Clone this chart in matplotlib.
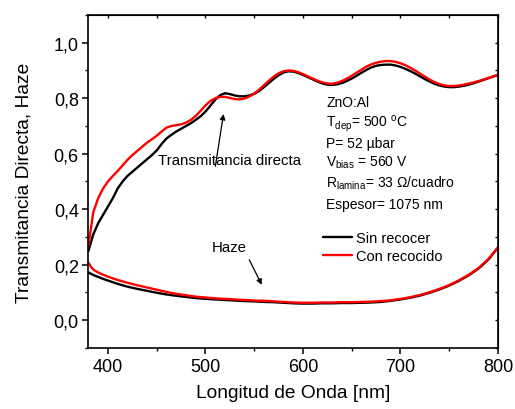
import matplotlib
matplotlib.use("Agg")
import matplotlib.pyplot as plt
from matplotlib.ticker import FuncFormatter, MultipleLocator

plt.rcParams['font.family'] = ['Liberation Sans', 'DejaVu Sans']
plt.rcParams['mathtext.fontset'] = 'custom'
plt.rcParams['mathtext.rm'] = 'Liberation Sans'
plt.rcParams['mathtext.it'] = 'Liberation Sans'

# Transmittance data
wl_t = list(range(380, 801, 5))
t_sin = [0.25, 0.31, 0.35, 0.38, 0.41, 0.44, 0.475, 0.50, 0.52, 0.535, 0.55, 0.565, 0.58,
         0.595, 0.612, 0.635, 0.655, 0.668, 0.68, 0.69, 0.70, 0.71, 0.722, 0.735, 0.752,
         0.773, 0.795, 0.811, 0.818, 0.815, 0.81, 0.807, 0.807, 0.81, 0.816, 0.826, 0.84,
         0.855, 0.87, 0.883, 0.893, 0.897, 0.896, 0.891, 0.884, 0.876, 0.868, 0.86, 0.853,
         0.849, 0.848, 0.85, 0.855, 0.862, 0.871, 0.881, 0.892, 0.902, 0.911, 0.917, 0.92,
         0.921, 0.921, 0.918, 0.913, 0.906, 0.898, 0.889, 0.879, 0.869, 0.86, 0.852, 0.846,
         0.842, 0.84, 0.84, 0.842, 0.845, 0.849, 0.854, 0.86, 0.866, 0.872, 0.878, 0.883]
t_con = [0.27, 0.39, 0.44, 0.475, 0.50, 0.52, 0.538, 0.558, 0.578, 0.595, 0.61, 0.625, 0.64,
         0.652, 0.665, 0.68, 0.694, 0.70, 0.703, 0.706, 0.712, 0.722, 0.736, 0.755, 0.774,
         0.79, 0.80, 0.805, 0.805, 0.801, 0.797, 0.796, 0.799, 0.806, 0.817, 0.831, 0.847,
         0.863, 0.878, 0.89, 0.897, 0.90, 0.899, 0.894, 0.887, 0.879, 0.871, 0.863, 0.857,
         0.853, 0.852, 0.856, 0.862, 0.871, 0.881, 0.892, 0.903, 0.914, 0.922, 0.928, 0.932,
         0.934, 0.934, 0.931, 0.926, 0.919, 0.91, 0.90, 0.889, 0.878, 0.867, 0.858, 0.851,
         0.846, 0.844, 0.844, 0.846, 0.849, 0.853, 0.857, 0.862, 0.867, 0.873, 0.879, 0.885]

# Haze data
wl_hs = [380, 385, 390, 395, 400, 410, 420, 430, 440, 450, 460, 470, 480, 490, 500, 510,
         520, 530, 540, 550, 560, 570, 580, 590, 600, 610, 620, 630, 640, 650, 660, 670,
         680, 690, 700, 710, 720, 730, 740, 750, 760, 770, 780, 790, 800]
h_sin = [0.172, 0.163, 0.156, 0.149, 0.143, 0.131, 0.121, 0.113, 0.106, 0.099, 0.093, 0.088,
         0.084, 0.080, 0.077, 0.075, 0.073, 0.071, 0.069, 0.068, 0.066, 0.065, 0.063, 0.061,
         0.060, 0.060, 0.061, 0.061, 0.062, 0.062, 0.063, 0.064, 0.066, 0.070, 0.075, 0.081,
         0.089, 0.099, 0.111, 0.125, 0.142, 0.162, 0.186, 0.218, 0.262]
wl_hc = [380, 383, 386, 390, 395, 400, 410, 420, 430, 440, 450, 460, 470, 480, 490, 500,
         510, 520, 530, 540, 550, 560, 570, 580, 590, 600, 610, 620, 630, 640, 650, 660,
         670, 680, 690, 700, 710, 720, 730, 740, 750, 760, 770, 780, 790, 800]
h_con = [0.207, 0.19, 0.18, 0.172, 0.164, 0.157, 0.145, 0.135, 0.126, 0.118, 0.11, 0.102,
         0.095, 0.09, 0.085, 0.082, 0.079, 0.077, 0.075, 0.073, 0.071, 0.070, 0.068, 0.066,
         0.064, 0.063, 0.063, 0.064, 0.064, 0.065, 0.065, 0.066, 0.067, 0.069, 0.072, 0.077,
         0.083, 0.091, 0.101, 0.113, 0.127, 0.144, 0.164, 0.188, 0.22, 0.263]

fig = plt.figure(figsize=(5.15, 4.10), dpi=100)
ax = fig.add_axes([0.1718, 0.1488, 0.7952, 0.8122])

kw = dict(lw=1.7, solid_joinstyle='round', solid_capstyle='round')
ax.plot(wl_t, t_sin, color='black', label='Sin recocer', **kw)
ax.plot(wl_t, t_con, color='#ff0000', label='Con recocido', **kw)
ax.plot(wl_hs, h_sin, color='black', **kw)
ax.plot(wl_hc, h_con, color='#ff0000', **kw)

ax.set_xlim(380, 800)
ax.set_ylim(-0.1, 1.1)
ax.xaxis.set_major_locator(MultipleLocator(100))
ax.xaxis.set_minor_locator(MultipleLocator(50))
ax.yaxis.set_major_locator(MultipleLocator(0.2))
ax.yaxis.set_minor_locator(MultipleLocator(0.1))
ax.yaxis.set_major_formatter(FuncFormatter(lambda v, p: f"{v:.1f}".replace('.', ',').replace('-0,0', '0,0')))
ax.tick_params(which='major', direction='out', length=4, width=1.1, labelsize=13, pad=3)
ax.tick_params(which='minor', direction='out', length=2.5, width=1.0)
for s in ax.spines.values():
    s.set_linewidth(1.2)

secx = ax.secondary_xaxis('top')
secx.xaxis.set_major_locator(MultipleLocator(100))
secx.xaxis.set_minor_locator(MultipleLocator(50))
secx.tick_params(which='both', direction='in', length=2, width=1.0, labeltop=False)
secy = ax.secondary_yaxis('right')
secy.yaxis.set_major_locator(MultipleLocator(0.2))
secy.yaxis.set_minor_locator(MultipleLocator(0.1))
secy.tick_params(which='both', direction='in', length=2, width=1.0, labelright=False)

ax.set_xlabel('Longitud de Onda [nm]', fontsize=13.8, labelpad=7)
ax.set_ylabel('Transmitancia Directa, Haze', fontsize=13.8, labelpad=15)

fs = 10
x0 = 623.6
ax.text(x0, 0.773, 'ZnO:Al', fontsize=fs, va='baseline')
ax.text(x0, 0.701, r'T$_{\mathrm{dep}}$= 500 $^{\mathrm{o}}$C', fontsize=fs, va='baseline')
ax.text(x0, 0.626, 'P= 52 µbar', fontsize=fs, va='baseline')
ax.text(x0, 0.558, r'V$_{\mathrm{bias}}$ = 560 V', fontsize=fs, va='baseline')
ax.text(x0, 0.482, r'R$_{\mathrm{lamina}}$= 33 Ω/cuadro', fontsize=fs, va='baseline')
ax.text(x0, 0.406, 'Espesor= 1075 nm', fontsize=fs, va='baseline')

ax.text(451.3, 0.576, 'Transmitancia directa', fontsize=10.8, va='center')
ax.annotate('', xy=(518.9, 0.753), xytext=(509.7, 0.545),
            arrowprops=dict(arrowstyle='-|>', color='black', lw=0.9, mutation_scale=8))
ax.text(506.7, 0.263, 'Haze', fontsize=10.8, va='center')
ax.annotate('', xy=(559, 0.119), xytext=(543.6, 0.227),
            arrowprops=dict(arrowstyle='-|>', color='black', lw=0.9, mutation_scale=8))

ax.legend(loc='upper left', bbox_to_anchor=(0.565, 0.36), frameon=False, fontsize=10.5,
          handlelength=2.0, handletextpad=0.3, labelspacing=0.3, borderaxespad=0,
          borderpad=0.2)

fig.savefig('out.png', dpi=100)
